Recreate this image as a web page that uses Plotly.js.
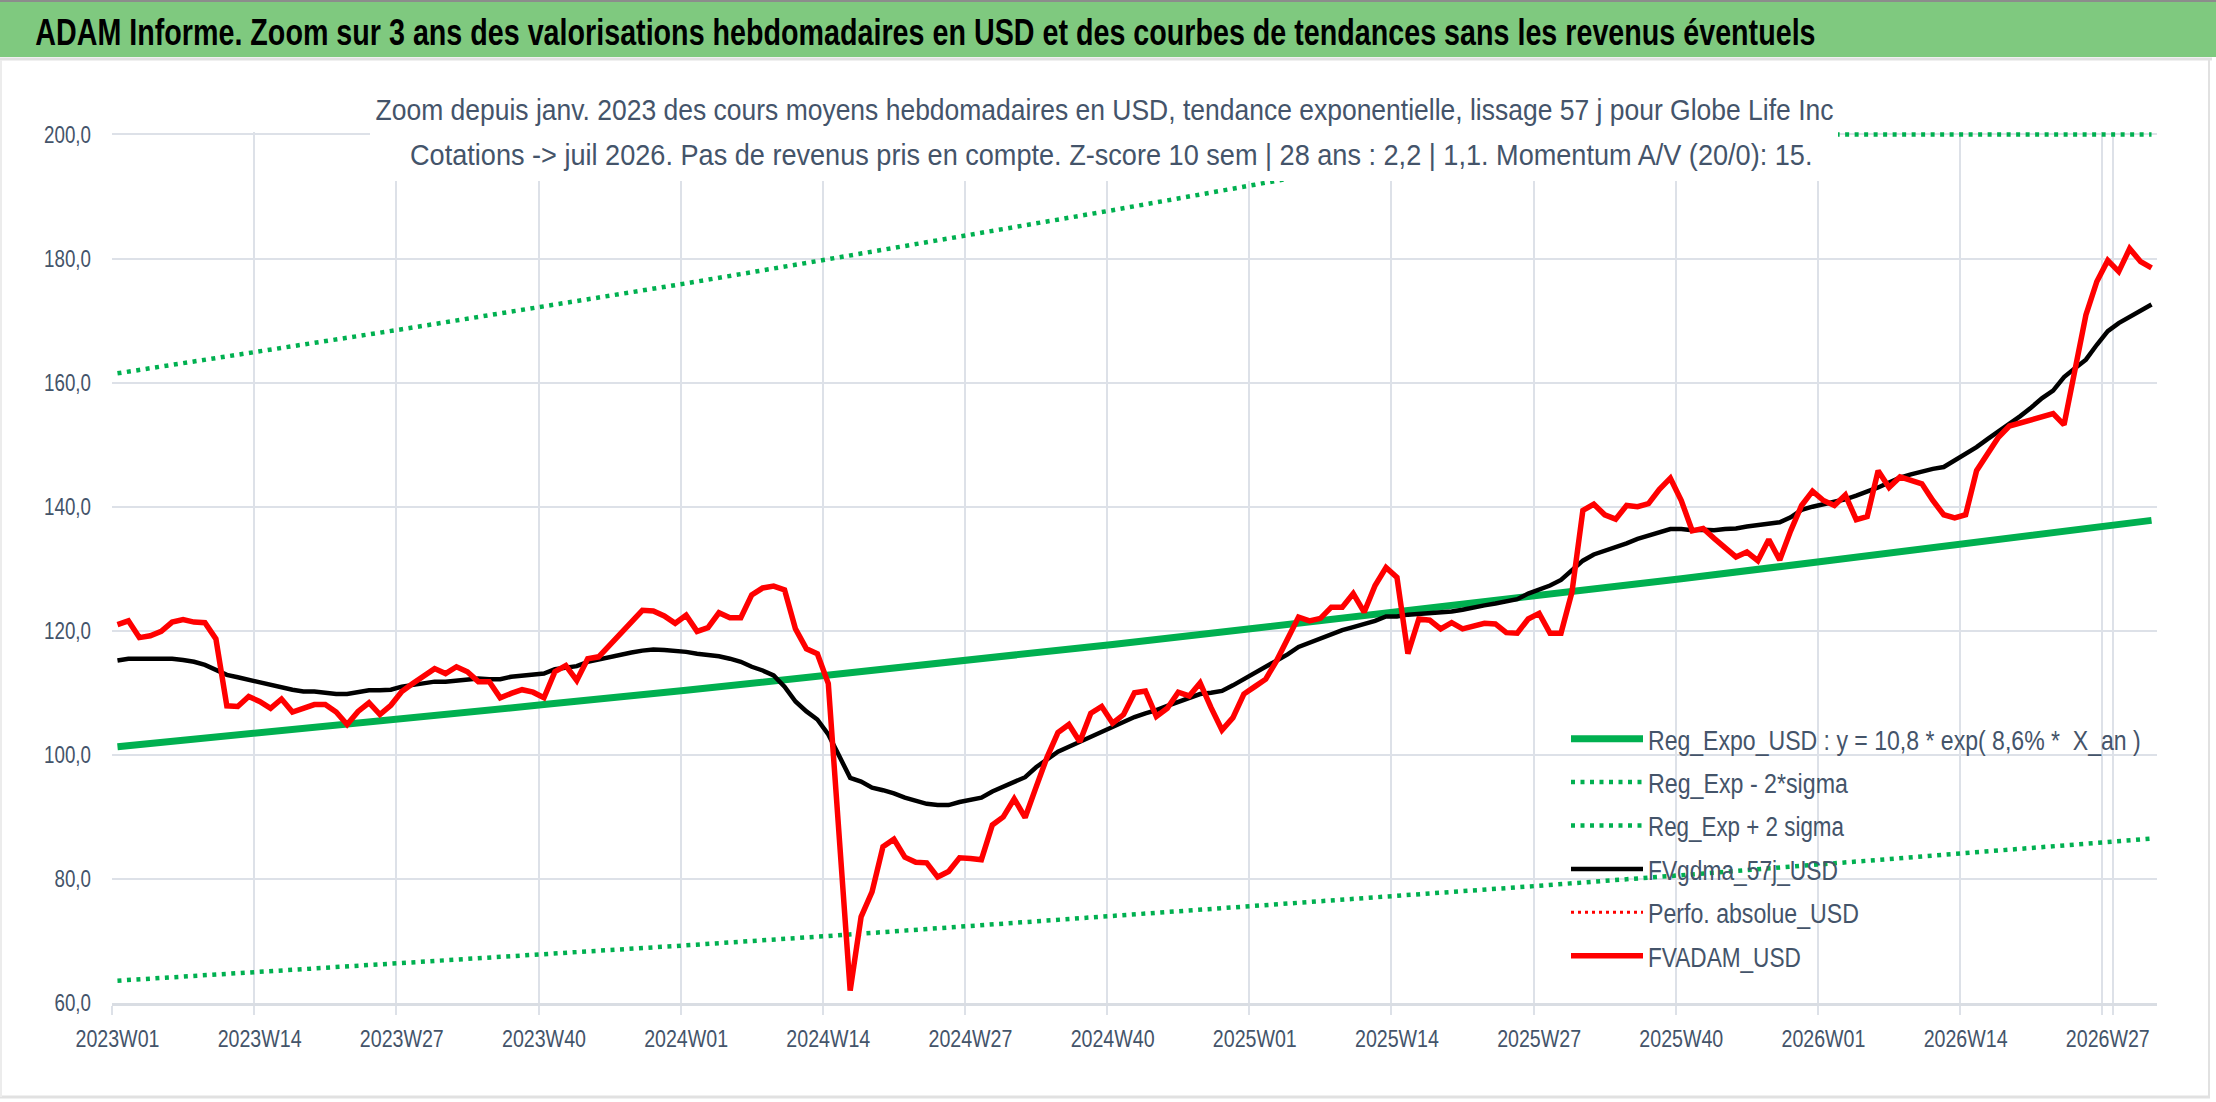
<!DOCTYPE html>
<html>
<head>
<meta charset="utf-8">
<script src="https://cdn.plot.ly/plotly-3.0.1.min.js"></script>
<style>
html,body{margin:0;padding:0;background:#fff;}
#chart{width:2216px;height:1102px;}
</style>
</head>
<body>
<div id="chart"></div>
<script>
// ---- Data ----
const weekYears = [2023, 2024, 2025, 2026];
const weeksPerYear = [52, 52, 52, 31]; // last year: up to W31 (juil 2026)

const tickLabels = ["2023W01","2023W14","2023W27","2023W40","2024W01","2024W14","2024W27",
  "2024W40","2025W01","2025W14","2025W27","2025W40","2026W01","2026W14","2026W27"];
const yTicks = [60, 80, 100, 120, 140, 160, 180, 200];

// FVADAM_USD (weekly average price, USD)
const fvadam = [
  121.0,121.6,118.9,119.2,119.9,121.4,121.8,121.4,121.3,118.7,
  107.9,107.8,109.4,108.6,107.5,109.0,106.9,107.4,108.1,108.1,
  106.9,104.9,107.0,108.4,106.5,108.0,110.2,111.5,112.6,113.9,
  113.1,114.2,113.4,111.8,111.8,109.2,109.9,110.5,110.1,109.2,
  113.4,114.4,112.0,115.5,115.8,117.6,119.4,121.3,123.3,123.2,
  122.4,121.2,122.5,119.9,120.5,122.9,122.1,122.1,125.8,126.9,
  127.2,126.6,120.3,117.1,116.3,111.5,87.0,62.0,73.9,77.9,
  85.2,86.4,83.5,82.7,82.6,80.3,81.2,83.4,83.3,83.1,
  88.7,90.0,92.9,89.9,94.8,99.6,103.6,104.9,102.1,106.7,
  107.8,105.1,106.5,110.0,110.3,106.2,107.5,110.1,109.5,111.6,
  107.6,104.0,106.0,109.8,111.0,112.2,115.2,118.9,122.2,121.6,
  122.0,123.8,123.8,126.0,123.0,127.3,130.2,128.6,116.3,121.9,
  121.7,120.3,121.3,120.3,120.8,121.2,121.1,119.7,119.6,121.9,
  122.8,119.6,119.6,126.2,139.4,140.4,138.7,138.0,140.2,140.0,
  140.5,142.8,144.6,141.0,136.1,136.5,134.9,133.3,131.9,132.7,
  131.3,134.7,131.4,136.1,140.2,142.5,141.0,140.2,141.9,137.9,
  138.4,145.8,143.1,144.8,144.2,143.7,141.0,138.7,138.2,138.7,
  145.8,148.7,151.2,153.0,153.5,153.9,154.6,155.0,153.2,162.4,
  170.9,176.3,179.7,177.9,181.6,179.5,178.5
];

// FVgdma_57j_USD (57-day smoothing)
const fvgdma = [
  115.2,115.5,115.5,115.5,115.5,115.5,115.3,115.0,114.5,113.7,
  112.9,112.5,112.1,111.6,111.2,110.8,110.5,110.2,110.2,110.0,
  109.8,109.8,110.1,110.4,110.4,110.5,111.0,111.3,111.6,111.8,
  111.8,112.0,112.2,112.3,112.2,112.2,112.6,112.8,112.9,113.1,
  113.8,114.0,114.3,115.0,115.4,115.8,116.2,116.5,116.8,117.0,
  116.9,116.8,116.6,116.3,116.1,115.9,115.5,115.0,114.2,113.6,
  112.8,111.0,108.6,107.0,105.7,103.3,99.8,96.3,95.7,94.7,
  94.3,93.8,93.1,92.6,92.1,91.9,91.9,92.4,92.7,93.1,
  94.1,94.9,95.7,96.4,98.0,99.3,100.5,101.3,102.1,103.0,
  103.8,104.6,105.4,106.1,106.7,107.2,107.9,108.5,109.1,109.8,
  110.0,110.3,111.2,112.2,113.1,114.1,115.1,116.2,117.4,118.1,
  118.8,119.5,120.1,120.6,121.1,121.6,122.3,122.3,122.6,122.7,
  122.8,122.9,123.1,123.4,123.8,124.1,124.4,124.8,125.1,126.0,
  126.6,127.3,128.2,129.7,131.3,132.3,132.9,133.4,134.1,134.8,
  135.3,135.9,136.4,136.4,136.2,136.3,136.2,136.4,136.5,136.8,
  137.0,137.3,137.5,138.3,139.5,140.0,140.4,140.8,141.2,141.8,
  142.4,143.1,143.9,144.7,145.2,145.7,146.1,146.4,147.4,148.4,
  149.6,150.9,152.1,153.3,154.6,156.0,157.5,158.7,160.9,162.3,
  163.7,166.1,168.3,169.6,170.6,171.4,172.6
];

// Trend lines, read at the labelled weeks and at the last week
const trendWeeks = ["2023W01","2023W14","2023W27","2023W40","2024W01","2024W14","2024W27",
  "2024W40","2025W01","2025W14","2025W27","2025W40","2026W01","2026W14","2026W27","2026W31"];
const regExpo = [101.3,103.5,105.8,108.1,110.4,112.8,115.3,117.8,120.4,123.0,125.7,128.4,131.2,134.1,137.0,137.8];
const regMinus = [63.6,65.0,66.4,67.9,69.3,70.8,72.4,74.0,75.6,77.2,78.9,80.6,82.4,84.2,86.0,86.5];
const upperWeeks = ["2023W01","2023W14","2023W27","2023W40","2024W01","2024W14","2024W27",
  "2024W40","2025W01","2025W14","2025W25","2026W31"];
const regPlus = [161.5,165.0,168.6,172.3,176.0,179.9,183.8,187.8,191.9,196.1,200.0,200.0];

// category labels of the weekly axis
const weeks = [];
weekYears.forEach((y, k) => {
  for (let w = 1; w <= weeksPerYear[k]; w++) weeks.push(y + "W" + String(w).padStart(2, "0"));
});

// ---- Layout helpers (pixel -> paper) ----
const W = 2216, H = 1102;
const M = {l: 112, r: 59, t: 132, b: 99, autoexpand: false};
const PW = W - M.l - M.r, PH = H - M.t - M.b;
const px = x => (x - M.l) / PW;
const py = y => (H - M.b - y) / PH;

const FONT = '"Liberation Sans", Arial, sans-serif';
const TXT = '#44546A';
const GREEN = '#00B050';
const GRID = '#dde1e8';

const traces = [
  {x: trendWeeks, y: regExpo, type: 'scatter', mode: 'lines', legendgroup: 'g1',
   name: 'Reg_Expo_USD : y = 10,8 * exp( 8,6% *  X_an )',
   line: {color: GREEN, width: 7}},
  {x: trendWeeks, y: regMinus, type: 'scatter', mode: 'lines', legendgroup: 'g2',
   name: 'Reg_Exp - 2*sigma',
   line: {color: GREEN, width: 4.5, dash: '4px,5.5px'}},
  {x: upperWeeks, y: regPlus, type: 'scatter', mode: 'lines', legendgroup: 'g3',
   name: 'Reg_Exp + 2 sigma',
   line: {color: GREEN, width: 4.5, dash: '4px,5.5px'}},
  {x: weeks, y: fvgdma, type: 'scatter', mode: 'lines', legendgroup: 'g4',
   name: 'FVgdma_57j_USD',
   line: {color: '#000000', width: 4.5}},
  {x: [weeks[0]], y: [null], type: 'scatter', mode: 'lines', legendgroup: 'g5',
   name: 'Perfo. absolue_USD',
   line: {color: '#FF0000', width: 3, dash: '3px,4px'}},
  {x: weeks, y: fvadam, type: 'scatter', mode: 'lines', legendgroup: 'g6',
   name: 'FVADAM_USD',
   line: {color: '#FF0000', width: 5.5}}
];

const layout = {
  width: W, height: H,
  margin: M,
  paper_bgcolor: '#ffffff',
  plot_bgcolor: '#ffffff',
  separators: ', ',
  font: {family: FONT, color: TXT, size: 24},
  showlegend: true,
  legend: {
    x: px(1566), y: py(714), xanchor: 'left', yanchor: 'top',
    bgcolor: 'rgba(0,0,0,0)', borderwidth: 0,
    font: {family: FONT, size: 28, color: TXT},
    itemwidth: 72, traceorder: 'grouped', tracegroupgap: 4
  },
  xaxis: {
    type: 'category',
    categoryorder: 'array', categoryarray: weeks,
    range: [-0.5, weeks.length - 0.5],
    tickmode: 'array', tickvals: tickLabels, ticktext: tickLabels,
    tickson: 'boundaries', tickangle: 0,
    ticks: 'outside', ticklen: 9, tickwidth: 2, tickcolor: GRID,
    showgrid: true, gridcolor: GRID, gridwidth: 2,
    showline: true, linecolor: '#d9dde3', linewidth: 3,
    zeroline: false,
    tickfont: {family: FONT, size: 24, color: TXT},
    ticklabelstandoff: 12,
    fixedrange: true
  },
  yaxis: {
    range: [60, 200.4],
    tickmode: 'array', tickvals: yTicks,
    tickformat: '.1f',
    ticks: '', showgrid: true, gridcolor: GRID, gridwidth: 2,
    zeroline: false, showline: false,
    tickfont: {family: FONT, size: 24, color: TXT},
    ticklabelstandoff: 20,
    fixedrange: true
  },
  shapes: [
    // green header bar
    {type: 'rect', xref: 'paper', yref: 'paper', x0: px(0), x1: px(2216), y0: py(57), y1: py(0),
     fillcolor: '#7FC97F', line: {width: 0}, layer: 'below'},
    {type: 'line', xref: 'paper', yref: 'paper', x0: px(0), x1: px(2216), y0: py(1), y1: py(1),
     line: {color: '#8c8c8c', width: 2}},
    {type: 'line', xref: 'paper', yref: 'paper', x0: px(0), x1: px(2212), y0: py(59), y1: py(59),
     line: {color: '#e1e1e1', width: 3}},
    // frame
    {type: 'line', xref: 'paper', yref: 'paper', x0: px(0), x1: px(2210), y0: py(1097), y1: py(1097),
     line: {color: '#e1e1e1', width: 3}},
    {type: 'line', xref: 'paper', yref: 'paper', x0: px(2209), x1: px(2209), y0: py(60), y1: py(1097),
     line: {color: '#e1e1e1', width: 2}},
    {type: 'line', xref: 'paper', yref: 'paper', x0: px(1), x1: px(1), y0: py(60), y1: py(1097),
     line: {color: '#ececec', width: 2}},
    // white box behind the subtitle (covers the curves)
    {type: 'rect', xref: 'paper', yref: 'paper', x0: px(370), x1: px(1838), y0: py(181), y1: py(84),
     fillcolor: '#ffffff', line: {width: 0}, layer: 'above'}
  ],
  annotations: [
    {xref: 'paper', yref: 'paper', x: px(925), y: py(32), xanchor: 'center', yanchor: 'middle',
     showarrow: false,
     text: '<b>ADAM Informe. Zoom sur 3 ans des valorisations hebdomadaires en USD et des courbes de tendances sans les revenus éventuels</b>',
     font: {family: FONT, size: 37, color: '#000000'}},
    {xref: 'paper', yref: 'paper', x: px(1104), y: py(110), xanchor: 'center', yanchor: 'middle',
     showarrow: false,
     text: 'Zoom depuis janv. 2023 des cours moyens hebdomadaires en USD, tendance exponentielle, lissage 57 j pour Globe Life Inc',
     font: {family: FONT, size: 29, color: TXT}},
    {xref: 'paper', yref: 'paper', x: px(1111), y: py(155), xanchor: 'center', yanchor: 'middle',
     showarrow: false,
     text: 'Cotations -> juil 2026. Pas de revenus pris en compte. Z-score 10 sem | 28 ans : 2,2 | 1,1. Momentum A/V (20/0): 15.',
     font: {family: FONT, size: 29, color: TXT}}
  ]
};

// target text widths (px) to mimic the tall, condensed typeface of the reference
const annWidths = [1781, 1458, 1403];
const legendWidths = [493, 200, 196, 190, 211, 153];
const xLabelWidth = 84;   // "2023W01"
const yLabelWidth = 47;   // "200,0"

// shrink the font to the target width, then stretch it vertically back to the
// original glyph height (scaling about the baseline) -> condensed look
function condense(el, w) {
  const nat = el.getComputedTextLength();
  if (!(nat > 0)) return;
  const fs = parseFloat(window.getComputedStyle(el).fontSize);
  const fs2 = fs * w / nat;
  el.style.fontSize = fs2.toFixed(2) + 'px';
  el.querySelectorAll('tspan').forEach(t => { if (t.style.fontSize) t.style.fontSize = fs2.toFixed(2) + 'px'; });
  const k = fs / fs2;
  const y = parseFloat(el.getAttribute('y')) || 0;
  const prev = el.getAttribute('transform') || '';
  el.setAttribute('transform', (prev + ' matrix(1,0,0,' + k.toFixed(4) + ',0,' + (-y * (k - 1)).toFixed(2) + ')').trim());
}

const gd = document.getElementById('chart');
Plotly.newPlot(gd, traces, layout, {displayModeBar: false, staticPlot: true}).then(() => {
  gd.querySelectorAll('.annotation-text').forEach((el, i) => { if (annWidths[i]) condense(el, annWidths[i]); });
  gd.querySelectorAll('.legendtext').forEach((el, i) => { if (legendWidths[i]) condense(el, legendWidths[i]); });
  const xt = Array.from(gd.querySelectorAll('.xtick text'));
  if (xt.length) {
    const r = xLabelWidth / xt[0].getComputedTextLength();
    const widths = xt.map(el => el.getComputedTextLength() * r);
    xt.forEach((el, i) => condense(el, widths[i]));
  }
  const yt = Array.from(gd.querySelectorAll('.ytick text'));
  const top = yt.find(el => el.textContent === '200,0');
  if (top) {
    const r = yLabelWidth / top.getComputedTextLength();
    const widths = yt.map(el => el.getComputedTextLength() * r);
    yt.forEach((el, i) => condense(el, widths[i]));
  }
});
</script>
</body>
</html>
